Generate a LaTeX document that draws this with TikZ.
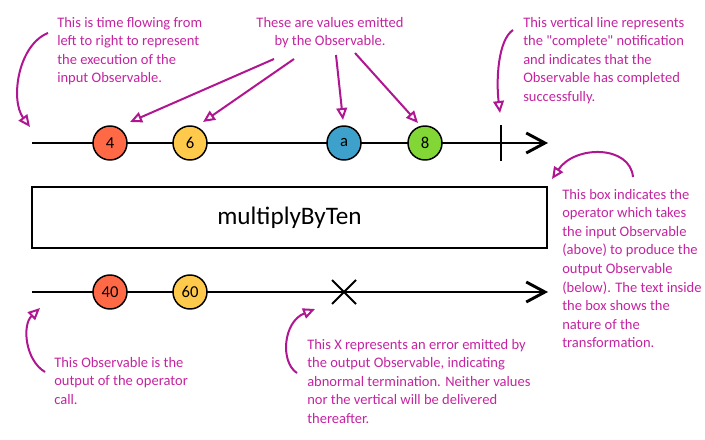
\documentclass[tikz,border=0pt]{standalone}
\usepackage{fontspec}
\setmainfont{Carlito}[Ligatures=TeXOff]
\usepackage{xcolor}
\usetikzlibrary{arrows.meta}

\definecolor{notetext}{RGB}{196,36,160}
\definecolor{notearrow}{RGB}{176,22,146}
\definecolor{red4}{RGB}{255,105,70}
\definecolor{yellow6}{RGB}{255,202,75}
\definecolor{bluea}{RGB}{62,161,203}
\definecolor{green8}{RGB}{130,215,54}

\begin{document}
\begin{tikzpicture}[x=0.75pt,y=-0.75pt,
  marble/.style={circle,draw,line width=1.1pt,minimum size=25.5pt,inner sep=0pt,
    font=\fontsize{12.5}{13}\selectfont},
  note/.style={anchor=north west,align=left,inner sep=0pt,text=notetext,
    font=\fontsize{10.9}{13.9}\selectfont},
  pointer/.style={draw=notearrow,line width=1.5pt,-{Triangle[open,length=9pt,width=8pt]}},
  timeline/.style={line width=2.2pt,-{Straight Barb[length=14pt,width=15pt]}}]
\useasboundingbox (0,0) rectangle (705,439);

% input observable
\coordinate (in0) at (32,143);
\coordinate (in1) at (548,143);
\draw[timeline] (in0) -- (in1);
\node[marble,fill=red4] (m4) at (110,143) {4};
\node[marble,fill=yellow6] (m6) at (190,143) {6};
\node[marble,fill=bluea] (ma) at (344,143) {a};
\node[marble,fill=green8] (m8) at (425,143) {8};
\coordinate (done) at (501,143);
\draw[line width=2.2pt] (done) ++(0,-18) -- ++(0,36);

% operator
\node[draw,line width=1.6pt,minimum width=386pt,minimum height=45.5pt,
  font=\fontsize{18.9}{22}\selectfont] (op) at (289.5,217.5) {multiplyByTen};

% output observable
\coordinate (out0) at (32,292);
\coordinate (out1) at (548,292);
\draw[timeline] (out0) -- (out1);
\node[marble,fill=red4] (m40) at (110,292) {40};
\node[marble,fill=yellow6] (m60) at (190,292) {60};
\coordinate (err) at (344,292);
\draw[line width=1.5pt] (err) ++(-12,-12) -- ++(24,24) ++(0,-24) -- ++(-24,24);

% notes
\node[note] (time) at (57,17) {This is time flowing from\\left to right to represent\\the execution of the\\input Observable.};
\node[note,anchor=north,align=center] (values) at (330,17) {These are values emitted\\by the Observable.};
\node[note] (complete) at (523,17) {This vertical line represents\\the "complete" notification\\and indicates that the\\Observable has completed\\successfully.};
\node[note] (opnote) at (562,189) {This box indicates the\\operator which takes\\the input Observable\\(above) to produce the\\output Observable\\(below). The text inside\\the box shows the\\nature of the\\transformation.};
\node[note] (outnote) at (54,357) {This Observable is the\\output of the operator\\call.};
\node[note] (errnote) at (307,339) {This X represents an error emitted by\\the output Observable, indicating\\abnormal termination. Neither values\\nor the vertical will be delivered\\thereafter.};

% pointers
\coordinate (s1) at (48,33);   \coordinate (t1) at (30,127);
\coordinate (s2) at (274,59);  \coordinate (t2) at (130,122);
\coordinate (s3) at (294,59);  \coordinate (t3) at (203,122);
\coordinate (s4) at (336,55);  \coordinate (t4) at (343,120);
\coordinate (s5) at (355,53);  \coordinate (t5) at (418,123);
\coordinate (s6) at (513,30);  \coordinate (t6) at (500,113);
\coordinate (s7) at (633,177); \coordinate (t7) at (552,179);
\coordinate (s8) at (45,372);  \coordinate (t8) at (40,308);
\coordinate (s9) at (297,373); \coordinate (t9) at (315,309);
\draw[pointer] (s1) .. controls (18,45) and (10,100) .. (t1);
\draw[pointer] (s2) -- (t2);
\draw[pointer] (s3) -- (t3);
\draw[pointer] (s4) -- (t4);
\draw[pointer] (s5) -- (t5);
\draw[pointer] (s6) .. controls (498,40) and (496,80) .. (t6);
\draw[pointer] (s7) .. controls (630,145) and (575,145) .. (t7);
\draw[pointer] (s8) .. controls (25,360) and (22,325) .. (t8);
\draw[pointer] (s9) .. controls (280,362) and (283,322) .. (t9);
\end{tikzpicture}
\end{document}
